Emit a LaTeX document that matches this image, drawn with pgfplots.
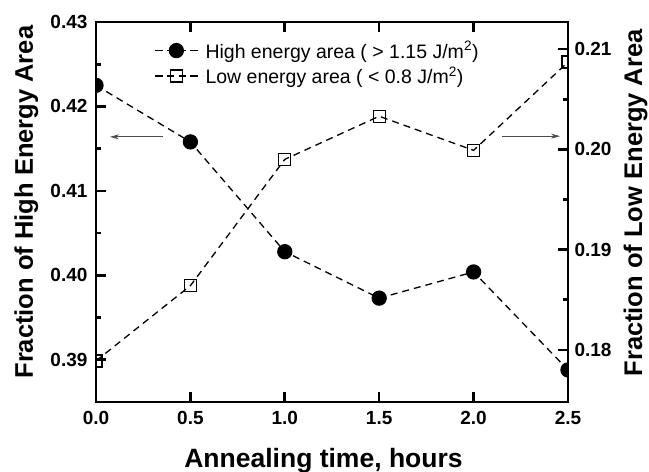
\documentclass[border=0pt]{standalone}
\usepackage{pgfplots}
\pgfplotsset{compat=1.18}
\usepackage{pgfplotstable}
\usepackage{fontspec}
\setmainfont{Liberation Sans}
\usetikzlibrary{arrows.meta}

\pgfplotstableread{
t    high   low
0.0  0.4225 0.1789
0.5  0.4158 0.1864
1.0  0.4028 0.1990
1.5  0.3973 0.2033
2.0  0.4004 0.1999
2.5  0.3888 0.2087
}\datatable

\pgfplotsset{
  common/.style={
    scale only axis, width=472pt, height=380pt,
    at={(0pt,0pt)}, anchor=south west,
    xmin=0, xmax=2.5, xtick={0,0.5,1,1.5,2,2.5},
    axis line style={line width=2.6pt},
    every tick/.style={line width=2.6pt, black},
    major tick length=10pt, minor tick length=5pt,
    tick align=inside,
    ticklabel style={font=\fontsize{19}{21}\selectfont\bfseries},
    xticklabel style={yshift=-6pt},
    /pgf/number format/assume math mode=true,
    clip marker paths=true,
  },
  dashline/.style={black, line width=1.3pt, dash pattern=on 7pt off 5pt},
  highstyle/.style={dashline, mark=*, mark size=7pt, mark options={solid, fill=black}},
  lowstyle/.style={dashline, mark=square, mark size=6pt, mark options={solid, fill=white, line width=1.3pt}},
  leg/.style={legend image code/.code={
      \draw[solid] (0pt,0pt) -- (8pt,0pt) (35pt,0pt) -- (43pt,0pt);
      \draw[solid] plot coordinates {(21.5pt,0pt)};
      \path (0pt,0pt) -- (48pt,0pt);}},
}

\begin{document}
\begin{tikzpicture}
\begin{axis}[common,
  ymin=0.385, ymax=0.43,
  ytick={0.39,0.40,0.41,0.42,0.43},
  minor ytick={0.385,0.395,0.405,0.415,0.425},
  ytick pos=left, xtick pos=both,
  yticklabel style={xshift=-5pt, /pgf/number format/.cd, fixed, fixed zerofill, precision=2},
  xticklabel style={/pgf/number format/.cd, fixed, fixed zerofill, precision=1},
  xlabel={Annealing time, hours},
  ylabel={Fraction of High Energy Area},
  every axis x label/.style={at={(axis description cs:0.482,-0.172)}, anchor=base,
    font=\fontsize{26.5}{28}\selectfont\bfseries},
  every axis y label/.style={at={(axis description cs:-0.1335,0.526)}, rotate=90, anchor=base,
    font=\fontsize{25.5}{28}\selectfont\bfseries},
  legend cell align=left,
  legend style={draw=none, fill=none, at={(0.1229,0.955)}, anchor=north west,
    inner sep=0pt, row sep=3pt, font=\fontsize{19.5}{21}\selectfont},
]
\addplot[highstyle, leg] table[x=t, y=high] {\datatable};
\addlegendentry{High energy area ( > 1.15 J/m\textsuperscript{2})}
\addlegendimage{lowstyle, leg}
\addlegendentry{Low energy area ( < 0.8 J/m\textsuperscript{2})}
\draw[gray!60!black, line width=0.8pt, -{Stealth[length=9pt,width=5pt]}]
  (axis cs:0.355,0.4164) -- (axis cs:0.074,0.4164);
\draw[gray!60!black, line width=0.8pt, -{Stealth[length=9pt,width=5pt]}]
  (axis cs:2.15,0.41648) -- (axis cs:2.458,0.41648);
\end{axis}
\begin{axis}[common,
  ymin=0.1748, ymax=0.2127,
  axis y line*=right, axis x line=none,
  ytick={0.18,0.19,0.20,0.21},
  minor ytick={0.185,0.195,0.205},
  yticklabel style={xshift=3pt, /pgf/number format/.cd, fixed, fixed zerofill, precision=2},
  ylabel={Fraction of Low Energy Area},
  every axis y label/.style={at={(axis description cs:1.1568,0.524)}, rotate=90, anchor=base,
    font=\fontsize{25.5}{28}\selectfont\bfseries},
]
\addplot[lowstyle] table[x=t, y=low] {\datatable};
\end{axis}
\pgfresetboundingbox
\path (-96pt,-70pt) rectangle (553pt,402pt);
\end{tikzpicture}
\end{document}
